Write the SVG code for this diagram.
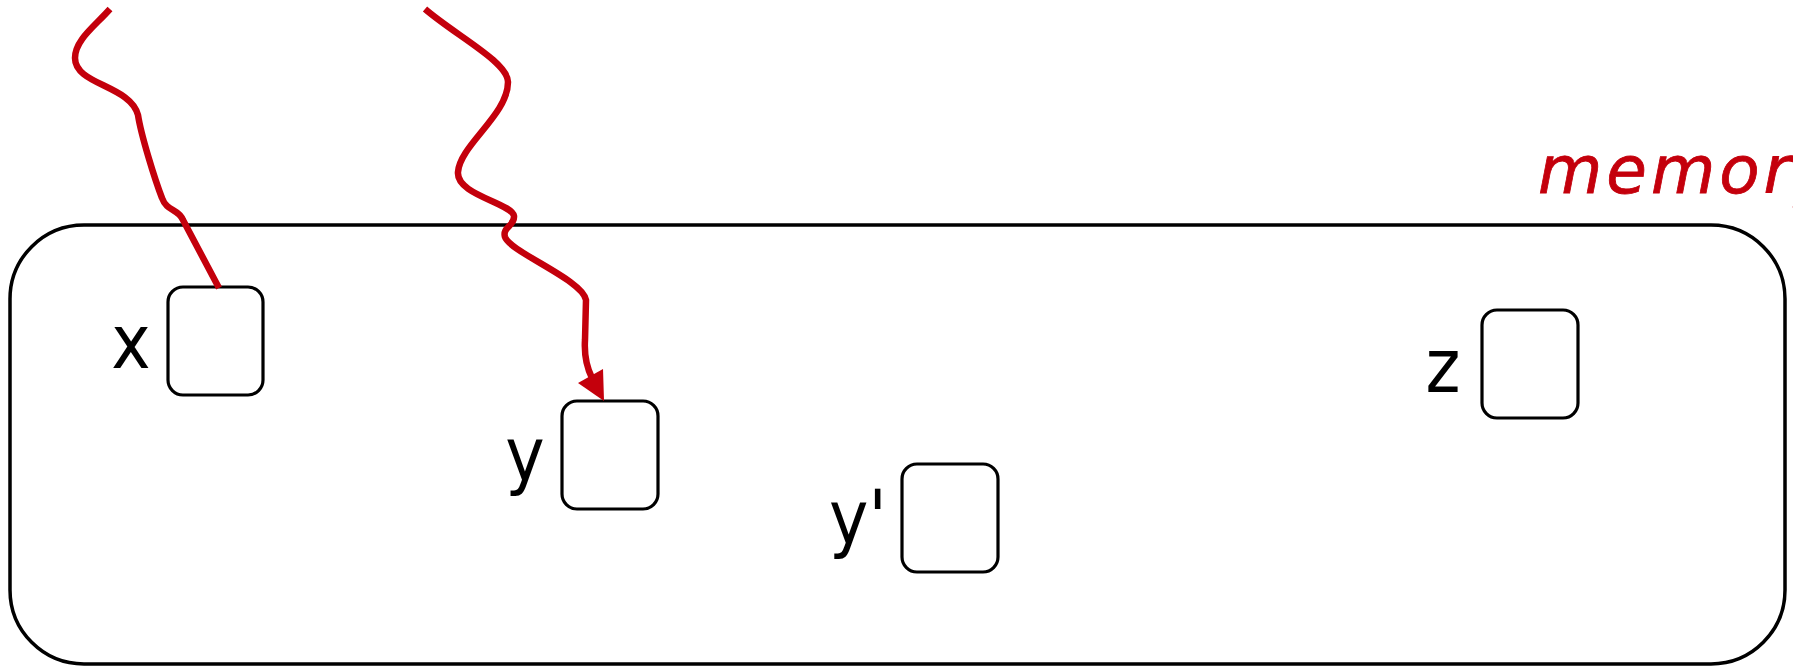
<svg xmlns="http://www.w3.org/2000/svg" width="1793" height="666" viewBox="0 0 1793 666">
<style>
.frame{fill:none;stroke:#000;stroke-width:3.5}
.cell{fill:#fff;stroke:#000;stroke-width:3.2}
.lbl{font-family:"DejaVu Sans Condensed","DejaVu Sans",sans-serif;font-stretch:condensed;font-size:74px;fill:#000}
.wire{fill:none;stroke:#c4000c;stroke-width:6.5;stroke-linecap:butt;stroke-linejoin:round}
.hand{font-family:"DejaVu Sans",sans-serif;font-style:italic;font-size:66px;fill:#c4000c;letter-spacing:4px;stroke:#c4000c;stroke-width:0.8}
</style>
<rect width="1793" height="666" fill="#fff"/>
<g id="memory">
<rect class="frame" x="10" y="225" width="1775" height="439" rx="74" ry="74"/>
<text class="hand" x="1538" y="193">memory</text>
</g>
<g id="node-x">
<rect class="cell" x="168" y="287" width="95" height="108" rx="15"/>
<text class="lbl" x="131" y="368" text-anchor="middle">x</text>
</g>
<g id="node-y">
<rect class="cell" x="562" y="401" width="96" height="108" rx="15"/>
<text class="lbl" x="525" y="480" text-anchor="middle">y</text>
</g>
<g id="node-y2">
<rect class="cell" x="902" y="464" width="96" height="108" rx="15"/>
<text class="lbl" x="829" y="543">y'</text>
</g>
<g id="node-z">
<rect class="cell" x="1482" y="310" width="96" height="108" rx="15"/>
<text class="lbl" x="1443" y="392" text-anchor="middle">z</text>
</g>
<g id="connectors">
<path class="wire" d="M110,9 C95,26 75,40 75,58 C75,85 130,85 138,115 C141,135 155,180 162,198 C167,212 178,208 183,220 L219,288"/>
<path class="wire" d="M425,9 C455,35 508,62 508,82 C508,115 460,145 458,172 C456,195 512,203 514,216 C515,226 502,227 505,237 C510,252 583,280 586,300 L585,340 C584,356 587,368 592,378"/>
<polygon fill="#c4000c" points="604,401 578,383 603,369"/>
</g>
</svg>
